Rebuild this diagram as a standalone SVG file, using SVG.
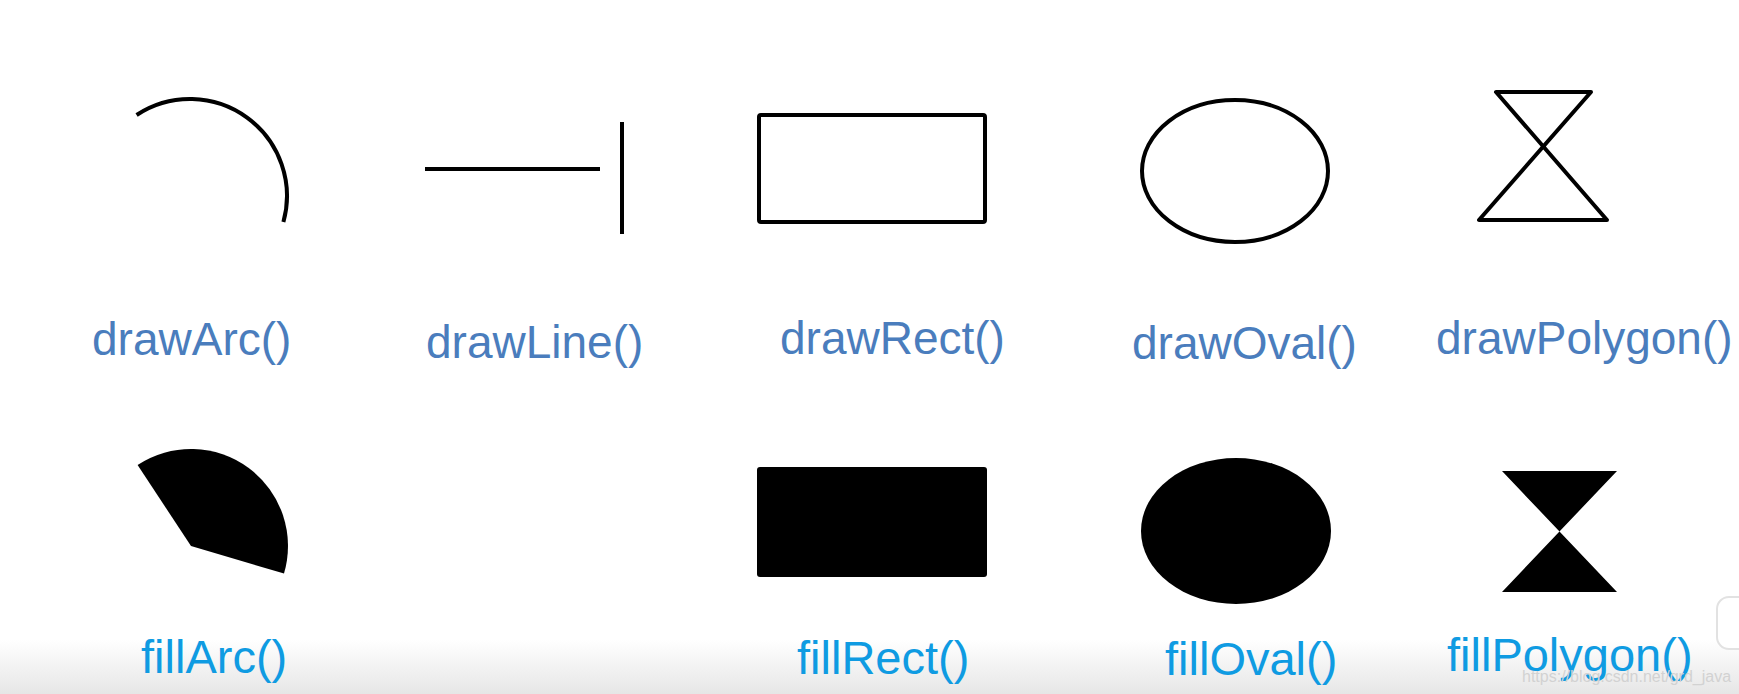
<svg xmlns="http://www.w3.org/2000/svg" width="1739" height="694" viewBox="0 0 1739 694">
<style>
.outline{fill:none;stroke:#000;stroke-width:4;stroke-linejoin:round;stroke-linecap:butt}
.solid{fill:#000;stroke:none}
.draw{font-family:"Liberation Sans",Arial,sans-serif;font-size:46px;fill:#4a7dbd}
.fill{font-family:"Liberation Sans",Arial,sans-serif;font-size:47px;fill:#0f9be2}
.wm{font-family:"Liberation Sans",Arial,sans-serif;font-size:16px;fill:#d2d2d2}
</style>
<defs>
<linearGradient id="bottomFade" x1="0" y1="0" x2="0" y2="1">
<stop offset="0" stop-color="#ffffff"/>
<stop offset="1" stop-color="#e6e6e6"/>
</linearGradient>
</defs>
<rect x="0" y="0" width="1739" height="694" fill="#fff"/>
<rect x="0" y="640" width="1739" height="54" fill="url(#bottomFade)"/>

<g id="drawArc">
<path class="outline" d="M136.6,115 A97,97 0 0 1 283.4,222"/>
<text class="draw" x="92" y="355">drawArc()</text>
</g>
<g id="drawLine">
<line class="outline" x1="425" y1="169" x2="600" y2="169"/>
<line class="outline" x1="622" y1="122" x2="622" y2="234"/>
<text class="draw" x="426" y="358">drawLine()</text>
</g>
<g id="drawRect">
<rect class="outline" x="759" y="115" width="226" height="107" rx="2" stroke-width="5"/>
<text class="draw" x="780" y="354">drawRect()</text>
</g>
<g id="drawOval">
<ellipse class="outline" cx="1235" cy="171" rx="93" ry="71"/>
<text class="draw" x="1132" y="359">drawOval()</text>
</g>
<g id="drawPolygon">
<polygon class="outline" points="1496,92 1591,92 1479,220 1607,220"/>
<text class="draw" x="1436" y="354">drawPolygon()</text>
</g>

<g id="fillArc">
<path class="solid" d="M191,546 L137.6,465 A97,97 0 0 1 284,573.5 Z"/>
<text class="fill" x="141" y="673">fillArc()</text>
</g>
<g id="fillRect">
<rect class="solid" x="757" y="467" width="230" height="110" rx="3"/>
<text class="fill" x="797" y="674">fillRect()</text>
</g>
<g id="fillOval">
<ellipse class="solid" cx="1236" cy="531" rx="95" ry="73"/>
<text class="fill" x="1165" y="675">fillOval()</text>
</g>
<g id="fillPolygon">
<polygon class="solid" points="1502,471 1617,471 1502,592 1617,592" stroke="#000" stroke-width="2" stroke-linejoin="round"/>
<text class="fill" x="1447" y="671">fillPolygon()</text>
</g>

<g id="overlay">
<rect x="1717" y="597" width="40" height="52" rx="12" fill="#fff" stroke="#e2e2e2" stroke-width="2"/>
<text class="wm" x="1522" y="682">https://blog.csdn.net/grd_java</text>
</g>
<g id="connectors"></g>
</svg>
